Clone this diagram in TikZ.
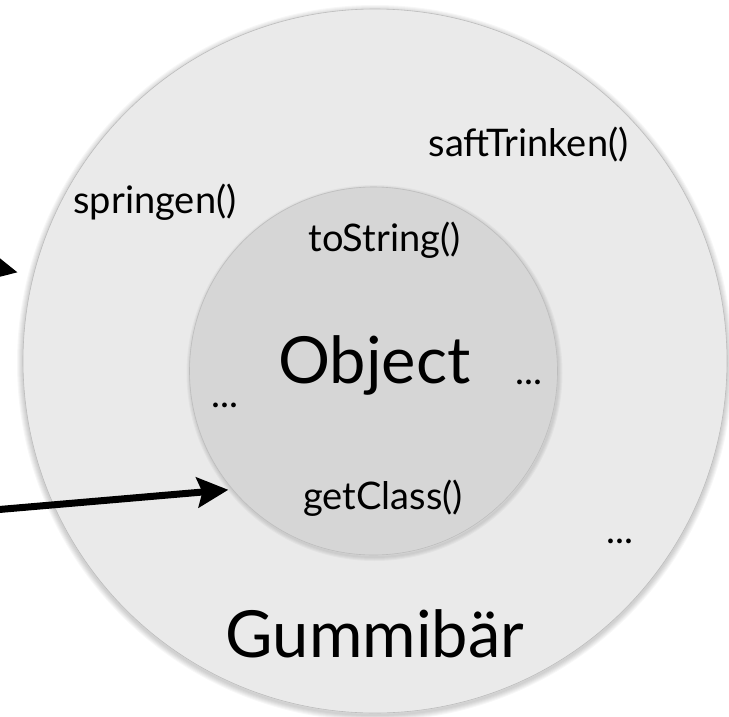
\documentclass[tikz,border=0pt]{standalone}
\usepackage{fontspec}
\setmainfont{Lato}
\usetikzlibrary{arrows.meta}
\definecolor{outerfill}{HTML}{EAEAEA}
\definecolor{innerfill}{HTML}{D6D6D6}
\definecolor{ringline}{HTML}{BDBDBD}
\begin{document}
\begin{tikzpicture}[x=1pt, y=-1pt,
  lbl/.style={anchor=base, inner sep=0pt, text=black, font=\fontsize{38}{42}\selectfont},
  biglbl/.style={lbl, font=\fontsize{65}{70}\selectfont},
  ring/.style={circle, draw=ringline, line width=0.6pt, inner sep=0pt},
  bigarrow/.style={line width=7pt, -{Stealth[length=31pt, width=30pt, inset=5pt]}}]
\fill[white] (0,0) rectangle (729,716);
\useasboundingbox (0,0) rectangle (729,716);
\begin{scope}
\clip (0,0) rectangle (729,716);
% soft shadows
\foreach \w in {2,4,6,8,10,12}
  \draw[black, opacity=0.03, line width=\w pt] (375,363) circle (352);
\node[ring, fill=outerfill, minimum size=704pt] (outer) at (375,361) {};
\foreach \w in {2,4,6,8}
  \draw[black, opacity=0.03, line width=\w pt] (374.5,373) circle (184);
\node[ring, fill=innerfill, minimum size=368pt] (inner) at (373.5,371) {};
% labels
\node[lbl] (saft) at (528.5,156) {saftTrinken()};
\node[lbl] (spring) at (155,213) {springen()};
\node[lbl] (tostr) at (384.5,251) {toString()};
\node[biglbl] (obj) at (374.5,383) {Object};
\node[lbl] (dotsA) at (529,384) {...};
\node[lbl] (dotsB) at (225,407) {...};
\node[lbl] (getcl) at (383,509) {getClass()};
\node[lbl] (dotsC) at (620,543) {...};
\node[biglbl] (gummi) at (375,657) {Gummibär};
% arrows
\coordinate (a1start) at (-80,251);
\coordinate (a2start) at (-30,512);
\draw[bigarrow, shorten >=16pt] (a1start) -- (outer.166);
\draw[bigarrow, shorten >=4pt] (a2start) -- (inner.220);
\end{scope}
\end{tikzpicture}
\end{document}
